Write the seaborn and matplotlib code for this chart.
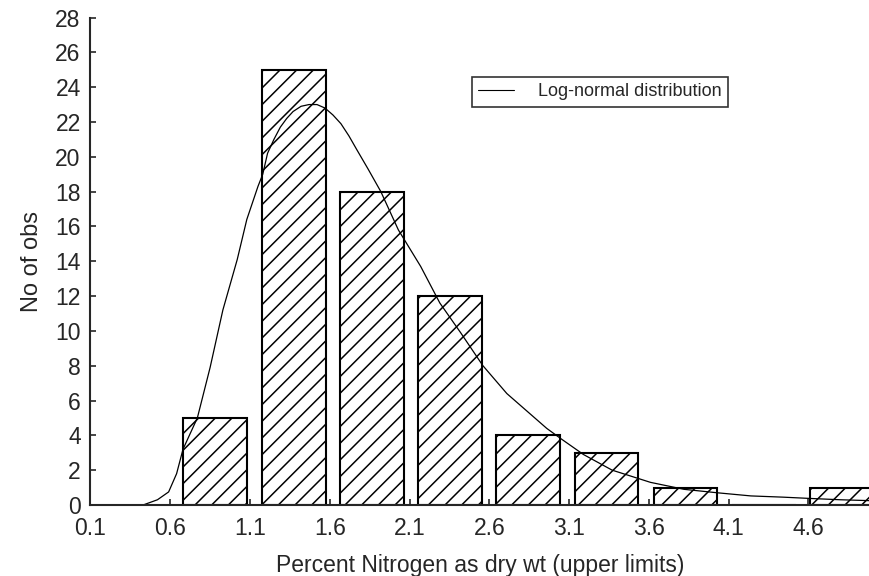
import matplotlib
matplotlib.use("Agg")
import matplotlib.pyplot as plt
import numpy as np
import pandas as pd
import seaborn as sns

# Histogram classes: bar centres (percent N) and counts
bar_centers = [0.88, 1.375, 1.865, 2.355, 2.845, 3.335, 3.83, 4.32, 4.81]
bar_counts = [5, 25, 18, 12, 4, 3, 1, 0, 1]
BAR_WIDTH = 0.40

# Fitted log-normal curve, expected counts per class
curve_x = [0.40, 0.43, 0.52, 0.59, 0.64, 0.68, 0.77, 0.85, 0.93, 1.02, 1.08, 1.15,
           1.18, 1.21, 1.25, 1.29, 1.33, 1.37, 1.42, 1.47, 1.52, 1.57, 1.62, 1.67,
           1.72, 1.77, 1.84, 1.92, 2.03, 2.17, 2.29, 2.42, 2.56, 2.71, 2.86, 2.96,
           3.05, 3.19, 3.37, 3.61, 3.82, 4.03, 4.24, 4.44, 4.60, 4.80, 4.98]
curve_y = [0.0, 0.0, 0.3, 0.75, 1.8, 3.2, 5.0, 7.9, 11.2, 14.1, 16.4, 18.3,
           19.0, 20.2, 21.0, 21.7, 22.2, 22.6, 22.9, 23.0, 23.0, 22.8, 22.4, 21.9,
           21.2, 20.4, 19.3, 18.0, 15.8, 13.7, 11.6, 9.9, 8.0, 6.4, 5.2, 4.4,
           3.8, 2.9, 2.0, 1.3, 0.9, 0.7, 0.52, 0.45, 0.38, 0.30, 0.25]

x_ticks = [0.1, 0.6, 1.1, 1.6, 2.1, 2.6, 3.1, 3.6, 4.1, 4.6]
y_ticks = list(range(0, 29, 2))

sns.set_style("ticks")
plt.rcParams["font.family"] = ["Liberation Sans", "DejaVu Sans"]
plt.rcParams["hatch.linewidth"] = 1.1

fig = plt.figure(figsize=(8.69, 5.76), dpi=100)
ax = fig.add_axes([0.1041, 0.1233, 0.8959, 0.8463])

bars = pd.DataFrame({"centre": bar_centers, "count": bar_counts})
rel_width = BAR_WIDTH / np.min(np.diff(sorted(bar_centers)))
sns.barplot(data=bars, x="centre", y="count", native_scale=True, width=rel_width,
            color="white", saturation=1, edgecolor="black", linewidth=1.5,
            hatch="//", errorbar=None, ax=ax)

sns.lineplot(x=curve_x, y=curve_y, color="black", linewidth=0.9,
             label="Log-normal distribution", ax=ax)

ax.set_xlim(0.1, 4.98)
ax.set_ylim(0, 28)
ax.set_xticks(x_ticks)
ax.set_xticklabels([f"{t:.1f}" for t in x_ticks])
ax.set_yticks(y_ticks)
ax.tick_params(direction="in", length=4, width=1.2, labelsize=16.5)
ax.tick_params(axis="y", pad=7)
ax.tick_params(axis="x", pad=9)

for side in ("top", "right"):
    ax.spines[side].set_visible(False)
for side in ("left", "bottom"):
    ax.spines[side].set_linewidth(1.5)

ax.set_xlabel("Percent Nitrogen as dry wt (upper limits)", fontsize=16.5, labelpad=10)
ax.set_ylabel("No of obs", fontsize=17, labelpad=9)

leg = ax.legend(loc="upper left", bbox_to_anchor=(472 / 869, 1 - 77 / 576),
                bbox_transform=fig.transFigure, fontsize=13, frameon=True,
                fancybox=False, handlelength=2.0, borderpad=0.35,
                handletextpad=1.3, borderaxespad=0)
leg.get_frame().set_edgecolor("black")
leg.get_frame().set_linewidth(1.2)
for line in leg.get_lines():
    line.set_linewidth(0.8)

fig.savefig("out.png", dpi=100)
